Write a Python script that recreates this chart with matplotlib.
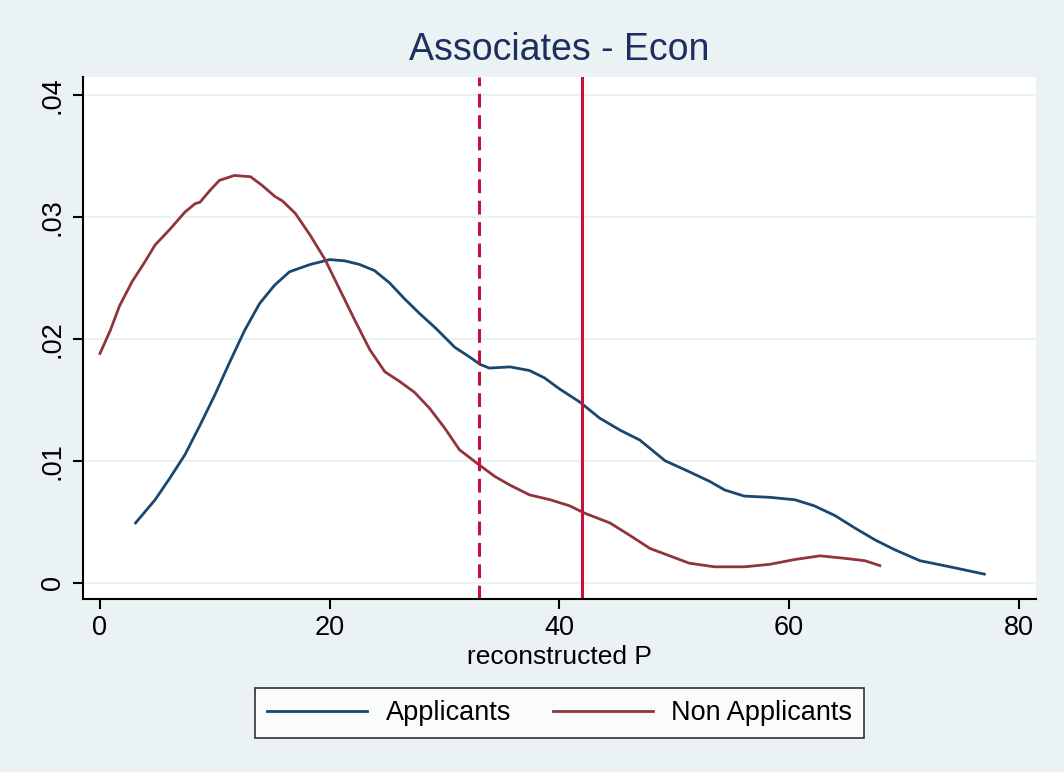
import numpy as np
import matplotlib
matplotlib.use("Agg")
import matplotlib.pyplot as plt

plt.rcParams['font.family'] = ['Liberation Sans', 'DejaVu Sans']

# Applicants density
app_x = [3.1, 4.8, 6.1, 7.4, 8.7, 10.0, 11.3, 12.6, 13.9, 15.2, 16.5, 18.3, 20.0, 21.3,
         22.6, 23.9, 25.2, 26.5, 27.8, 29.2, 30.9, 32.2, 33.1, 33.9, 35.7, 37.4, 38.7,
         40.0, 41.8, 43.5, 45.3, 47.0, 49.2, 51.3, 53.1, 54.4, 56.1, 58.3, 60.5, 62.2,
         64.0, 65.7, 67.5, 69.2, 71.4, 74.0, 77.0]
app_y = [0.0049, 0.0068, 0.0086, 0.0105, 0.0129, 0.0154, 0.0181, 0.0207, 0.0229, 0.0244,
         0.0255, 0.0261, 0.0265, 0.0264, 0.0261, 0.0256, 0.0246, 0.0233, 0.0221, 0.0209,
         0.0193, 0.0185, 0.0179, 0.0176, 0.0177, 0.0174, 0.0168, 0.0159, 0.0148, 0.0135,
         0.0125, 0.0117, 0.0100, 0.0091, 0.0083, 0.0076, 0.0071, 0.0070, 0.0068, 0.0063,
         0.0055, 0.0045, 0.0035, 0.0027, 0.0018, 0.0013, 0.0007]

# Non applicants density
non_x = [0.0, 0.9, 1.7, 2.8, 3.9, 4.8, 6.1, 7.4, 8.3, 8.7, 9.6, 10.4, 11.7, 13.1, 14.1,
         15.2, 15.9, 17.0, 18.3, 19.6, 20.9, 22.2, 23.5, 24.8, 26.1, 27.4, 28.7, 30.0,
         31.3, 33.1, 34.4, 35.7, 37.4, 39.2, 40.9, 42.2, 44.4, 46.1, 47.9, 49.6, 51.3,
         53.5, 56.1, 58.3, 60.5, 62.7, 64.8, 66.6, 67.9]
non_y = [0.0188, 0.0207, 0.0227, 0.0247, 0.0263, 0.0277, 0.0290, 0.0304, 0.0311, 0.0312,
         0.0322, 0.0330, 0.0334, 0.0333, 0.0326, 0.0317, 0.0313, 0.0303, 0.0285, 0.0265,
         0.0240, 0.0215, 0.0191, 0.0173, 0.0165, 0.0156, 0.0143, 0.0127, 0.0109, 0.0096,
         0.0087, 0.0080, 0.0072, 0.0068, 0.0063, 0.0057, 0.0049, 0.0039, 0.0028, 0.0022,
         0.0016, 0.0013, 0.0013, 0.0015, 0.0019, 0.0022, 0.0020, 0.0018, 0.0014]

vline_dash = 33
vline_solid = 42

x_ticks = [0, 20, 40, 60, 80]
y_ticks = [0, 0.01, 0.02, 0.03, 0.04]
y_labels = ["0", ".01", ".02", ".03", ".04"]

bg = "#EAF2F3"
fig = plt.figure(figsize=(10.64, 7.72), dpi=100, facecolor=bg)
ax = fig.add_axes([0.078, 0.2241, 0.8957, 0.6762])
ax.set_facecolor("white")

for yv in y_ticks:
    ax.axhline(yv, color=bg, lw=1.5, zorder=0)

ax.plot(app_x, app_y, color="#1A476F", lw=2, label="Applicants", solid_joinstyle="round")
ax.plot(non_x, non_y, color="#90353B", lw=2, label="Non Applicants", solid_joinstyle="round")
ax.axvline(vline_dash, color="#C8103C", lw=2.2, ls=(0, (4.5, 2.5)))
ax.axvline(vline_solid, color="#C8103C", lw=2.2)

ax.set_xlim(-1.48, 81.5)
ax.set_ylim(-0.00134, 0.04148)
ax.set_xticks(x_ticks)
ax.set_yticks(y_ticks)
ax.set_yticklabels(y_labels, rotation=90, va="center")
ax.tick_params(labelsize=19.5, length=7.5, width=1.5, color="black")
ax.tick_params(axis="y", pad=5)
ax.tick_params(axis="x", pad=4)
for s in ["top", "right"]:
    ax.spines[s].set_visible(False)
for s in ["left", "bottom"]:
    ax.spines[s].set_linewidth(1.5)

ax.set_xlabel("reconstructed P", fontsize=19, labelpad=3)
ax.set_title("Associates - Econ", fontsize=27, color="#1C2F5E", pad=12)

leg = fig.legend(loc="center", bbox_to_anchor=(0.526, 0.0764), ncol=2, fontsize=19.5,
                 frameon=True, fancybox=False, handlelength=3.7, handletextpad=0.67,
                 columnspacing=1.55, borderpad=0.45)
leg.get_frame().set_edgecolor("black")
leg.get_frame().set_linewidth(1.2)

fig.savefig("out.png", dpi=100, facecolor=bg)
